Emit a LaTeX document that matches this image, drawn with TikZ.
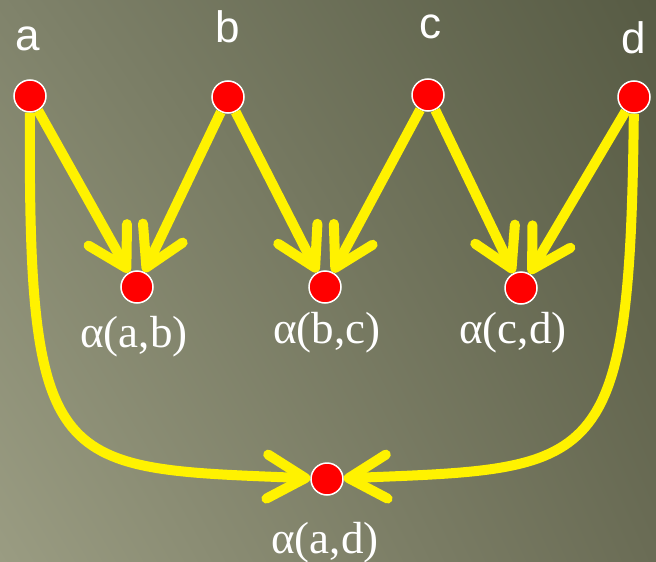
\documentclass[tikz,border=0pt]{standalone}
\usepackage{fontspec}
\setmainfont{Liberation Serif}
\setsansfont{Liberation Sans}
\usetikzlibrary{arrows.meta,shadings}

\definecolor{bgul}{HTML}{80836B}
\definecolor{bgur}{HTML}{575B44}
\definecolor{bgll}{HTML}{9A9C82}
\definecolor{bglr}{HTML}{6A6C55}

\tikzset{
  dot/.style={circle, fill=red, draw=white, line width=1.5pt, minimum size=32pt, inner sep=0pt},
  arr/.style={yellow, line width=10pt, -{Straight Barb[length=38pt, width=44pt, round]}},
  toplbl/.style={text=white, anchor=base, font=\sffamily\fontsize{44}{48}\selectfont},
  botlbl/.style={text=white, anchor=base, font=\rmfamily\fontsize{45}{48}\selectfont}
}

\begin{document}
\begin{tikzpicture}[x=1pt, y=-1pt]

  % ---------- background ----------
  \useasboundingbox (0,0) rectangle (656,562);
  \shade[upper left=bgul, upper right=bgur, lower left=bgll, lower right=bglr] (0,0) rectangle (656,562);

  % ---------- top row ----------
  \node[dot] (a) at (30,96) {};
  \node[dot] (b) at (228,97) {};
  \node[dot] (c) at (428,95) {};
  \node[dot] (d) at (634,97) {};
  \node[toplbl] (la) at (28,50) {a};
  \node[toplbl] (lb) at (228,42) {b};
  \node[toplbl] (lc) at (430,38) {c};
  \node[toplbl] (ld) at (634,53) {d};

  % ---------- pairs ----------
  \node[dot] (ab) at (137,287) {};
  \node[dot] (bc) at (325,287) {};
  \node[dot] (cd) at (521,288) {};
  \node[dot] (ad) at (327,479) {};
  \node[botlbl] (lab) at (134,347) {α(a,b)};
  \node[botlbl] (lbc) at (327,343) {α(b,c)};
  \node[botlbl] (lcd) at (513,343) {α(c,d)};
  \node[botlbl] (lad) at (325,553) {α(a,d)};

  % ---------- arrows ----------
  \draw[arr] (a) -- (ab);
  \draw[arr] (b) -- (ab);
  \draw[arr] (b) -- (bc);
  \draw[arr] (c) -- (bc);
  \draw[arr] (c) -- (cd);
  \draw[arr] (d) -- (cd);
  \draw[arr] (a) .. controls (28,475) and (55,468) .. (ad);
  \draw[arr] (d) .. controls (630,475) and (600,468) .. (ad);

\end{tikzpicture}
\end{document}
